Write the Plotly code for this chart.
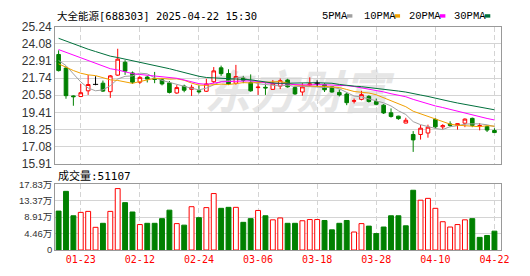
import plotly.graph_objects as go
import pandas as pd

W, H = 530, 276
RED = "#ff0000"
GREEN = "#008000"

stock_title = "大全能源[688303] 2025-04-22 15:30"
ma_names = ["5PMA", "10PMA", "20PMA", "30PMA"]
ma_windows = [5, 10, 20, 30]
ma_colors = ["#a0a0a0", "#f0a000", "#ff00ff", "#00703c"]

dates = ["01-20", "01-21", "01-22", "01-23", "01-24", "01-27",
         "02-05", "02-06", "02-07", "02-10", "02-11", "02-12", "02-13", "02-14",
         "02-17", "02-18", "02-19", "02-20", "02-21", "02-24", "02-25", "02-26",
         "02-27", "02-28",
         "03-03", "03-04", "03-05", "03-06", "03-07", "03-10", "03-11", "03-12",
         "03-13", "03-14", "03-17", "03-18", "03-19", "03-20", "03-21", "03-24",
         "03-25", "03-26", "03-27", "03-28", "03-31",
         "04-01", "04-02", "04-03", "04-07", "04-08", "04-09", "04-10", "04-11",
         "04-14", "04-15", "04-16", "04-17", "04-18", "04-21", "04-22"]

opens = [23.36, 22.43, 20.53, 20.49, 20.88, 21.32, 21.40, 20.82, 21.95, 22.83,
         22.10, 21.47, 21.82, 21.72, 21.63, 21.42, 20.73, 21.20, 20.98, 20.88,
         20.85, 21.50, 22.45, 22.06, 21.40, 21.75, 21.45, 21.10, 21.12, 20.98,
         21.20, 21.62, 21.10, 20.80, 21.28, 21.40, 21.30, 21.15, 20.77, 20.66,
         20.17, 20.30, 20.50, 20.15, 19.90, 19.38, 19.15, 18.68, 17.90, 17.90,
         18.00, 18.93, 18.42, 18.62, 18.52, 18.67, 19.00, 18.48, 18.45, 18.17]
highs = [23.64, 22.56, 20.57, 21.35, 21.96, 21.87, 21.58, 21.96, 23.75, 22.97,
         22.20, 21.88, 21.90, 22.17, 21.75, 21.55, 21.27, 21.30, 21.30, 21.24,
         21.70, 22.50, 22.60, 22.35, 22.65, 21.90, 22.00, 21.45, 21.38, 21.62,
         21.72, 21.70, 21.18, 21.40, 21.80, 21.60, 21.40, 21.20, 20.97, 20.77,
         20.35, 20.88, 20.58, 20.35, 19.97, 19.68, 19.18, 19.04, 18.13, 18.55,
         18.57, 19.00, 18.60, 18.80, 18.66, 19.00, 19.05, 18.68, 18.50, 18.33]
lows = [22.20, 20.34, 19.86, 20.45, 20.60, 21.26, 20.80, 20.40, 21.90, 21.97,
        21.35, 21.35, 21.45, 21.40, 21.25, 20.70, 20.68, 20.78, 20.53, 20.70,
        20.80, 21.40, 21.90, 21.27, 21.30, 21.40, 20.82, 20.60, 20.60, 20.95,
        21.00, 21.10, 20.60, 20.55, 21.20, 21.20, 20.80, 20.75, 20.50, 19.90,
        20.02, 20.23, 20.08, 19.90, 19.30, 19.05, 18.90, 18.66, 16.71, 17.55,
        17.68, 18.30, 18.25, 18.40, 18.23, 18.40, 18.40, 18.18, 18.07, 18.00]
closes = [22.26, 20.55, 20.48, 20.75, 21.31, 21.32, 20.86, 21.90, 23.04, 22.22,
          21.47, 21.80, 21.68, 21.66, 21.35, 20.77, 21.10, 20.92, 21.12, 20.82,
          21.35, 22.24, 22.05, 21.35, 21.85, 21.60, 20.88, 21.13, 21.08, 21.40,
          21.57, 21.15, 20.67, 21.15, 21.35, 21.40, 20.95, 20.80, 20.60, 20.07,
          20.20, 20.62, 20.15, 19.96, 19.37, 19.13, 18.98, 18.87, 17.53, 18.33,
          18.40, 18.42, 18.50, 18.52, 18.64, 18.95, 18.52, 18.50, 18.20, 18.03]
# volume in lots (手)
volumes = [105500, 159000, 92800, 102000, 104700, 61500, 72400, 104700, 166500, 128400,
           103000, 69000, 72400, 72400, 85000, 108000, 71600, 67400, 117400, 87700,
           114900, 153000, 113000, 115700, 115700, 75000, 85000, 107200, 92800, 81800,
           86900, 72400, 72400, 79300, 82600, 82600, 80000, 54700, 72400, 80000,
           48800, 71600, 64800, 44500, 62300, 92800, 92800, 65600, 162000, 135000,
           140000, 113000, 76700, 62300, 69000, 81800, 85000, 34300, 39400, 51107]
# closes of the 29 sessions before 01-20 (estimated so the averages start where the picture shows)
prior_closes = [26.3, 26.5, 26.2, 26.4, 26.1, 26.0, 26.2, 25.9, 25.4, 25.0,
                24.3, 24.5, 24.6, 24.9, 25.1, 25.0, 24.9, 24.8, 24.8, 23.8,
                23.0, 22.6, 22.6, 22.4, 21.85, 22.3, 23.3, 23.5, 23.4]

x_tick_labels = ["01-23", "02-12", "02-24", "03-06", "03-18", "03-28", "04-10", "04-22"]
price_tick_labels = ["15.91", "17.08", "18.25", "19.41", "20.58", "21.74", "22.91", "24.08", "25.24"]
vol_tick_vals = [0, 44600, 89100, 133700, 178300]
vol_tick_labels = ["0", "4.46万", "8.91万", "13.37万", "17.83万"]


def px(x):
    return x / W


def py(y):
    return 1 - y / H


n = len(dates)
idx = list(range(n))
tick_vals = [dates.index(t) for t in x_tick_labels]
price_vals = [float(s) for s in price_tick_labels]

fig = go.Figure()

# moving averages
series = pd.Series(prior_closes + closes)
for name, w, col in zip(ma_names, ma_windows, ma_colors):
    ma = series.rolling(w).mean().iloc[len(prior_closes):].tolist()
    fig.add_trace(go.Scatter(x=idx, y=ma, mode="lines", line=dict(color=col, width=1),
                             hoverinfo="skip", xaxis="x", yaxis="y"))

# candles (non-flat)
nf = [i for i in idx if opens[i] != closes[i]]
fig.add_trace(go.Candlestick(
    x=nf, open=[opens[i] for i in nf], high=[highs[i] for i in nf],
    low=[lows[i] for i in nf], close=[closes[i] for i in nf],
    increasing=dict(line=dict(color=RED, width=1), fillcolor="white"),
    decreasing=dict(line=dict(color=GREEN, width=1), fillcolor=GREEN),
    whiskerwidth=0, hoverinfo="skip", xaxis="x", yaxis="y"))

# flat candles (open == close) drawn as black crosses
fx, fy = [], []
for i in idx:
    if opens[i] == closes[i]:
        fx += [i - 0.35, i + 0.35, None, i, i, None]
        fy += [opens[i], opens[i], None, lows[i], highs[i], None]
fig.add_trace(go.Scatter(x=fx, y=fy, mode="lines", line=dict(color="black", width=1),
                         hoverinfo="skip", xaxis="x", yaxis="y"))

# volume
prev = [prior_closes[-1]] + closes[:-1]
up = [c >= p for c, p in zip(closes, prev)]
fig.add_trace(go.Bar(
    x=idx, y=volumes, width=0.66,
    marker=dict(color=["white" if u else GREEN for u in up],
                line=dict(color=[RED if u else GREEN for u in up], width=1)),
    hoverinfo="skip", xaxis="x2", yaxis="y2"))

x_dom = [px(56), px(509)]
x_rng = [-0.467, 59.93]
grid = "#d4d4d4"
frame = "#999999"
ytick_font = dict(family="Liberation Sans, Noto Sans CJK SC", size=12, color="#333333")

fig.update_layout(
    width=W, height=H, margin=dict(l=0, r=0, t=0, b=0),
    paper_bgcolor="white", plot_bgcolor="white", showlegend=False, hovermode=False,
    xaxis=dict(domain=x_dom, range=x_rng, anchor="y", tickvals=tick_vals,
               showticklabels=False, showgrid=True, gridcolor=grid, griddash="5px,3px",
               showline=True, mirror=True, linecolor=frame, zeroline=False,
               rangeslider=dict(visible=False), fixedrange=True),
    yaxis=dict(domain=[py(165), py(21)], range=[price_vals[0], price_vals[-1]],
               tickvals=price_vals, ticktext=price_tick_labels, tickfont=ytick_font,
               showgrid=True, gridcolor=grid, showline=True, mirror=True,
               linecolor=frame, zeroline=False, anchor="x"),
    xaxis2=dict(domain=x_dom, range=x_rng, anchor="y2", tickvals=tick_vals,
                ticktext=x_tick_labels,
                tickfont=dict(family="DejaVu Sans Mono", size=10, color=RED),
                showgrid=True, gridcolor=grid, griddash="5px,3px",
                showline=True, mirror=True, linecolor=frame, zeroline=False),
    yaxis2=dict(domain=[py(256), py(186.7)], range=[0, vol_tick_vals[-1]],
                tickvals=vol_tick_vals, ticktext=vol_tick_labels,
                tickfont=dict(family="Liberation Sans, Noto Sans CJK SC", size=9.5, color="#333333"),
                showgrid=True, gridcolor=grid, showline=True, mirror=True,
                linecolor=frame, zeroline=False, anchor="x2"),
)

shapes = [dict(type="rect", xref="paper", yref="paper", x0=px(222), x1=px(380),
               y0=py(116), y1=py(72), line=dict(width=0), fillcolor="rgba(0,0,0,0)",
               layer="below",
               label=dict(text="东方财富", textposition="middle center",
                          font=dict(family="Noto Sans CJK SC", size=46, color="#e6e6e6",
                                    weight="bold", style="italic")))]
annotations = [
    dict(text=stock_title, x=px(56), y=py(9), xref="paper", yref="paper",
         xanchor="left", yanchor="middle", showarrow=False,
         font=dict(family="DejaVu Sans Mono, Noto Sans CJK SC", size=10.5, color="black")),
    dict(text=f"成交量:{volumes[-1]}", x=px(57), y=py(177.8), xref="paper", yref="paper",
         xanchor="left", yanchor="middle", showarrow=False,
         font=dict(family="DejaVu Sans Mono, Noto Sans CJK SC", size=11, color="black")),
]
legend_text_x = [325, 367.3, 413.3, 459.3]
legend_box_x = [352.3, 400.7, 446.7, 492.3]
for name, col, tx, bx in zip(ma_names, ma_colors, legend_text_x, legend_box_x):
    annotations.append(dict(text=name, x=px(tx), y=py(9.2), xref="paper", yref="paper",
                            xanchor="left", yanchor="middle", showarrow=False,
                            font=dict(family="Liberation Mono", size=10.5, color="black")))
    shapes.append(dict(type="rect", xref="paper", yref="paper", x0=px(bx), x1=px(bx + 5.5),
                       y0=py(11.2), y1=py(7.6), fillcolor=col, line=dict(width=0)))

fig.update_layout(shapes=shapes, annotations=annotations)
fig.write_html("out.html")
